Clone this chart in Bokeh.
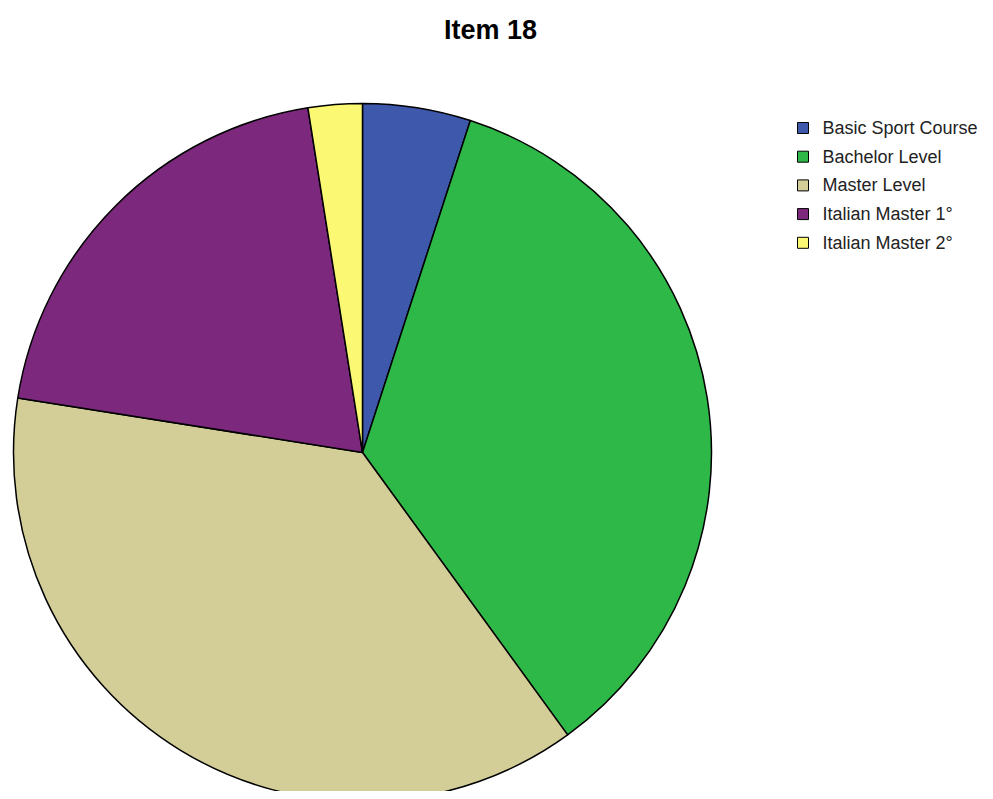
import numpy as np
from bokeh.plotting import figure
from bokeh.models import Range1d, ColumnDataSource
from bokeh.core.properties import value
from bokeh.embed import file_html
from bokeh.resources import INLINE

categories = ["Basic Sport Course", "Bachelor Level", "Master Level", "Italian Master 1°", "Italian Master 2°"]
counts = [2, 14, 15, 8, 1]
colors = ["#3E58AC", "#2EB848", "#D3CE97", "#7C287D", "#FBF873"]
title = "Item 18"

W, H = 977, 791
p = figure(width=W, height=H, output_backend="svg", toolbar_location=None,
           x_range=Range1d(0, W), y_range=Range1d(799 - H, 799),
           min_border=0, outline_line_color=None)
p.axis.visible = False
p.grid.visible = False
p.background_fill_color = "white"

frac = np.array(counts, dtype=float) / sum(counts)
cum = np.concatenate([[0], np.cumsum(frac)])
start = np.pi / 2 - cum[1:] * 2 * np.pi
end = np.pi / 2 - cum[:-1] * 2 * np.pi

cx, cy, r = 362, 799 - 452, 349
src = ColumnDataSource(dict(start=start, end=end, color=colors, cat=categories))
p.wedge(x=cx, y=cy, radius=r, start_angle="start", end_angle="end",
        fill_color="color", line_color="black", line_width=1.5, source=src)

# legend
ly = [799 - (127.5 + 28.7 * i) for i in range(len(categories))]
lsrc = ColumnDataSource(dict(y=ly, color=colors, cat=categories))
p.rect(x=802.5, y="y", width=11, height=11, fill_color="color", line_color="black",
       line_width=1, source=lsrc)
p.text(x=822, y="y", text="cat", text_font=value("Liberation Sans"),
       text_font_size="18px", text_baseline="middle", text_color="#222222", source=lsrc)

p.text(x=[490], y=[799 - 29], text=[title], text_font=value("Liberation Sans"),
       text_font_size="27px", text_font_style="bold", text_align="center",
       text_baseline="middle", text_color="black")

open("out.html", "w").write(file_html(p, INLINE))
